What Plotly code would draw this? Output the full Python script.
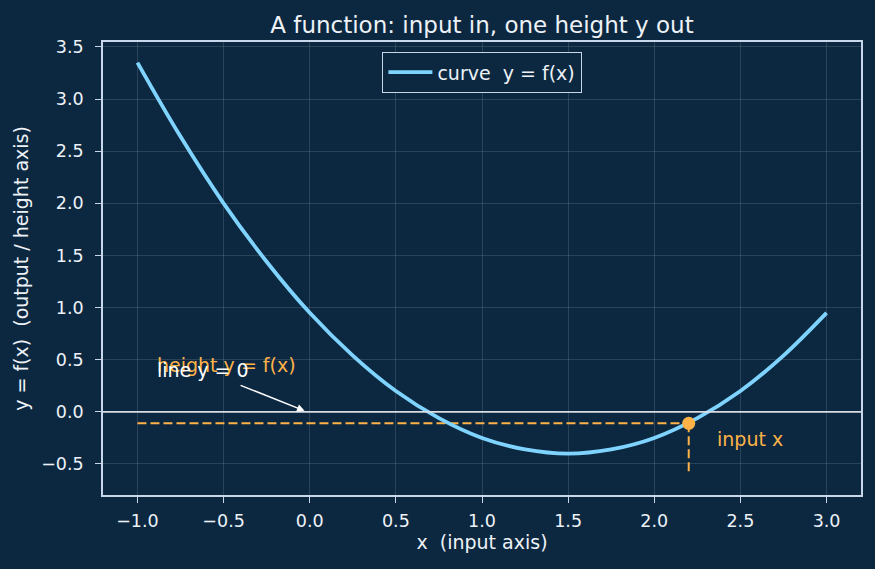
import plotly.graph_objects as go

# Curve samples
x_vals = [-1.0, -0.75, -0.5, -0.25, 0.0, 0.25, 0.5, 0.75, 1.0, 1.25, 1.5, 1.75, 2.0, 2.25, 2.5, 2.75, 3.0]
y_vals = [3.35, 2.64, 2.0, 1.44, 0.95, 0.54, 0.2, -0.06, -0.25, -0.36, -0.4, -0.36, -0.25, -0.06, 0.2, 0.54, 0.95]

x_input = 2.2
y_output = -0.11
x_left = -1.0
y_bottom = -0.6

x_ticks = [-1.0, -0.5, 0.0, 0.5, 1.0, 1.5, 2.0, 2.5, 3.0]
y_ticks = [-0.5, 0.0, 0.5, 1.0, 1.5, 2.0, 2.5, 3.0, 3.5]

BG = "#0c2841"
FG = "#eef2f7"
SPINE = "#c8d8ea"
ORANGE = "#ffb347"
BLUE = "#7fd4ff"
FONT = "DejaVu Sans"

fig = go.Figure()

fig.add_trace(go.Scatter(x=[x_left, x_input], y=[y_output, y_output], mode="lines",
                         line=dict(color=ORANGE, width=2, dash="9px,4px"), showlegend=False, hoverinfo="skip"))
fig.add_trace(go.Scatter(x=[x_input, x_input], y=[y_output, y_bottom], mode="lines",
                         line=dict(color=ORANGE, width=2, dash="9px,4px"), showlegend=False, hoverinfo="skip"))

fig.add_trace(go.Scatter(x=x_vals, y=y_vals, mode="lines", name="curve  y = f(x)",
                         line=dict(color=BLUE, width=3.8, shape="spline")))

fig.add_trace(go.Scatter(x=[x_input], y=[y_output], mode="markers",
                         marker=dict(color=ORANGE, size=13), showlegend=False))

fig.add_shape(type="line", xref="paper", x0=0, x1=1, yref="y", y0=0, y1=0,
              line=dict(color="#d8dde3", width=1.8), layer="above")

fig.add_annotation(x=-0.9, y=0.45, text="height y = f(x)", showarrow=False, xanchor="left",
                   font=dict(color=ORANGE, size=19, family=FONT))
fig.add_annotation(x=-0.03, y=0.01, ax=-0.41, ay=0.26, axref="x", ayref="y",
                   text="", showarrow=True, arrowhead=2, arrowsize=1, arrowwidth=1.5,
                   arrowcolor="#ffffff")
fig.add_annotation(x=-0.9, y=0.40, text="line y = 0", showarrow=False, xanchor="left",
                   font=dict(color="#ffffff", size=19, family=FONT))
fig.add_annotation(x=2.353, y=-0.26, text="input x", showarrow=False, xanchor="left",
                   font=dict(color=ORANGE, size=19, family=FONT))

axis_common = dict(showline=True, linecolor=SPINE, linewidth=1.6, mirror=True,
                   ticks="outside", ticklen=6, tickcolor=SPINE, tickwidth=1.4,
                   showgrid=True, gridcolor="rgba(255,255,255,0.13)", gridwidth=1,
                   zeroline=False, tickfont=dict(color=FG, size=17.5, family=FONT),
                   title_font=dict(color=FG, size=19, family=FONT))

fig.update_xaxes(range=[-1.2, 3.2], tickvals=x_ticks,
                 ticktext=[f"{v:.1f}".replace("-", "\u2212") for v in x_ticks],
                 ticklabelstandoff=3,
                 title_text="x  (input axis)", title_standoff=6, **axis_common)
fig.update_yaxes(range=[-0.7975, 3.5475], tickvals=y_ticks,
                 ticktext=[f"{v:.1f}".replace("-", "\u2212") for v in y_ticks],
                 ticklabelstandoff=8,
                 title_text="y = f(x)  (output / height axis)", title_standoff=8, **axis_common)

fig.update_layout(
    width=875, height=569,
    paper_bgcolor=BG, plot_bgcolor=BG,
    margin=dict(l=103, r=14, t=42, b=74),
    title=dict(text="A function: input in, one height y out", xref="paper", x=0.5, xanchor="center",
               y=0.956, yanchor="middle", font=dict(color=FG, size=23, family=FONT)),
    legend=dict(x=0.5, xanchor="center", y=0.978, yanchor="top", bgcolor=BG,
                bordercolor=SPINE, borderwidth=1.4, itemwidth=44,
                font=dict(color=FG, size=19, family=FONT)),
    font=dict(family=FONT, color=FG),
)

fig.write_html("out.html")
